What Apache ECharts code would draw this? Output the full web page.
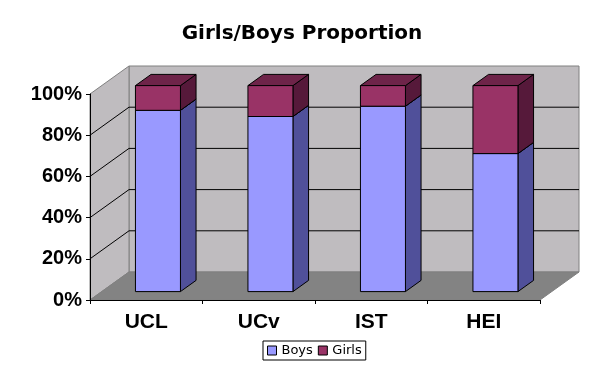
<!DOCTYPE html>
<html><head><meta charset="utf-8">
<script src="https://cdn.jsdelivr.net/npm/echarts@6/dist/echarts.min.js"></script>
<style>html,body{margin:0;padding:0;background:#fff}#c{width:605px;height:376px}</style>
</head><body><div id="c"></div>
<script>
// ---- data ----
const categories = ['UCL', 'UCv', 'IST', 'HEI'];
const boys = [88, 85, 90, 67];
const girls = [12, 15, 10, 33];
const yTicks = [0, 20, 40, 60, 80, 100];

// ---- 3D styling constants ----
const DX = 39, DY = -28;            // full floor depth in px
const BAR_D0 = 0.3, BAR_D1 = 0.7;    // bar depth range (fraction)
const BAR_W = 0.40;                  // bar width fraction of band

const boysData = categories.map((c, i) => [i, 0, boys[i]]);
const girlsData = categories.map((c, i) => [i, boys[i], boys[i] + girls[i]]);

function wallsRender(params, api) {
  const cs = params.coordSys;
  const x0 = cs.x, x1 = cs.x + cs.width;
  const yb = api.coord([0, yTicks[0]])[1];
  const yt = api.coord([0, yTicks[yTicks.length - 1]])[1];
  const children = [];
  const wallStyle = { fill: '#bfbcbf', stroke: '#808080', lineWidth: 1 };
  children.push({ type: 'polygon', shape: { points: [[x0 + DX, yt + DY], [x1 + DX, yt + DY], [x1 + DX, yb + DY], [x0 + DX, yb + DY]] }, style: wallStyle });
  children.push({ type: 'polygon', shape: { points: [[x0, yt], [x0 + DX, yt + DY], [x0 + DX, yb + DY], [x0, yb]] }, style: wallStyle });
  children.push({ type: 'polygon', shape: { points: [[x0, yb], [x1, yb], [x1 + DX, yb + DY], [x0 + DX, yb + DY]] }, style: { fill: '#838383', stroke: '#808080', lineWidth: 1 } });
  yTicks.slice(1, -1).forEach(v => {
    const y = api.coord([0, v])[1];
    children.push({ type: 'polyline', shape: { points: [[x0, y], [x0 + DX, y + DY], [x1 + DX, y + DY]] }, style: { stroke: '#000', lineWidth: 1, fill: null } });
  });
  return { type: 'group', children };
}

function barRender(front, topC, sideC) {
  return function (params, api) {
    const i = api.value(0), lo = api.value(1), hi = api.value(2);
    const cb = api.coord([i, lo]);
    const ct = api.coord([i, hi]);
    const bw = api.size([1, 0])[0] * BAR_W;
    const ox = DX * BAR_D0, oy = DY * BAR_D0;
    const dx = DX * (BAR_D1 - BAR_D0), dy = DY * (BAR_D1 - BAR_D0);
    const l = cb[0] - bw / 2 + ox, r = cb[0] + bw / 2 + ox;
    const b = cb[1] + oy, t = ct[1] + oy;
    const line = { stroke: '#000', lineWidth: 1 };
    return {
      type: 'group',
      children: [
        { type: 'polygon', shape: { points: [[r, b], [r + dx, b + dy], [r + dx, t + dy], [r, t]] }, style: Object.assign({ fill: sideC }, line) },
        { type: 'polygon', shape: { points: [[l, t], [r, t], [r + dx, t + dy], [l + dx, t + dy]] }, style: Object.assign({ fill: topC }, line) },
        { type: 'rect', shape: { x: l, y: t, width: r - l, height: b - t }, style: Object.assign({ fill: front }, line) }
      ]
    };
  };
}

const chart = echarts.init(document.getElementById('c'));
chart.setOption({
  animation: false,
  backgroundColor: '#fff',
  title: {
    text: 'Girls/Boys Proportion',
    left: 297, top: 19, textAlign: 'center',
    textStyle: { fontFamily: 'DejaVu Sans', fontWeight: 'bold', fontSize: 20, color: '#000' }
  },
  legend: {
    data: ['Boys', 'Girls'],
    left: 263, top: 341,
    padding: [3, 4, 3, 4],
    borderColor: '#000', borderWidth: 1,
    itemGap: 5, itemWidth: 9, itemHeight: 9,
    icon: 'rect',
    itemStyle: { borderColor: '#000', borderWidth: 1 },
    textStyle: { fontFamily: 'DejaVu Sans', fontSize: 13, color: '#000' }
  },
  grid: { left: 90, right: 65, top: 94, bottom: 76 },
  xAxis: {
    type: 'category',
    data: categories,
    axisLine: { lineStyle: { color: '#000', width: 1 } },
    axisTick: { show: true, length: 4, lineStyle: { color: '#000' } },
    axisLabel: { margin: 12, fontFamily: 'Liberation Sans', fontWeight: 'bold', fontSize: 21, color: '#000' },
    splitLine: { show: false }
  },
  yAxis: {
    type: 'value', min: 0, max: 100, interval: 20,
    axisLine: { show: true, lineStyle: { color: '#000', width: 1 } },
    axisTick: { show: true, length: 4, lineStyle: { color: '#000' } },
    axisLabel: { formatter: '{value}%', margin: 8, fontFamily: 'Liberation Sans', fontWeight: 'bold', fontSize: 20, color: '#000' },
    splitLine: { show: false }
  },
  series: [
    { type: 'custom', name: 'walls', z: -1, renderItem: wallsRender, data: [[0, 0, 0]], encode: { x: 0, y: 2 }, silent: true },
    { type: 'custom', name: 'Boys', z: 3, renderItem: barRender('#9999ff', '#7a7acc', '#50509a'), data: boysData, encode: { x: 0, y: 2 }, itemStyle: { color: '#9999ff' } },
    { type: 'custom', name: 'Girls', z: 4, renderItem: barRender('#993366', '#6e2449', '#56193a'), data: girlsData, encode: { x: 0, y: 2 }, itemStyle: { color: '#993366' } }
  ]
});
</script></body></html>
